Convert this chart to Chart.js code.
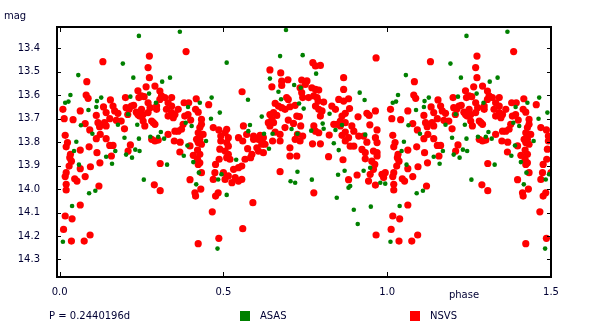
<!DOCTYPE html>
<html><head><meta charset="utf-8">
<script src="https://cdn.jsdelivr.net/npm/chart.js@4/dist/chart.umd.min.js"></script>
<style>html,body{margin:0;padding:0;background:#fff;overflow:hidden}#c{display:block}</style>
</head><body>
<canvas id="c" width="600" height="334"></canvas>
<script>
// ---- data ----
const periodLabel = 'P = 0.2440196d';
const xTitle = 'phase';
const yTitle = 'mag';
const xTicks = [0.0, 0.5, 1.0, 1.5];
const yTicks = [13.4, 13.5, 13.6, 13.7, 13.8, 13.9, 14.0, 14.1, 14.2, 14.3];
const seriesNames = ['ASAS', 'NSVS'];

// ASAS observations: [phase, mag] (phase 0..1)
const asasPoints = [
[0.242,13.347],[0.193,13.465],[0.225,13.525],[0.057,13.514],[0.033,13.599],[0.017,13.632],[0.027,13.627],
[0.114,13.625],[0.127,13.610],[0.112,13.650],[0.088,13.663],[0.065,13.728],[0.100,13.764],[0.051,13.798],
[0.044,13.838],[0.059,13.896],[0.170,13.838],[0.142,13.862],[0.160,13.892],[0.203,13.853],[0.221,13.866],
[0.231,13.832],[0.244,13.838],[0.198,13.781],[0.237,13.726],[0.242,13.785],[0.090,14.018],[0.109,14.007],
[0.038,14.072],[0.010,14.225],[0.209,13.681],[0.216,13.606],[0.178,13.726],
[0.367,13.329],[0.313,13.542],[0.337,13.525],[0.273,13.593],[0.294,13.632],[0.464,13.610],[0.428,13.632],
[0.392,13.650],[0.489,13.674],[0.462,13.700],[0.403,13.731],[0.385,13.717],[0.309,13.757],[0.277,13.777],
[0.301,13.777],[0.319,13.785],[0.390,13.814],[0.447,13.795],[0.379,13.858],[0.408,13.885],[0.328,13.896],
[0.425,13.930],[0.494,13.937],[0.484,13.959],[0.257,13.960],[0.417,13.980],[0.482,14.254],
[0.691,13.322],[0.673,13.433],[0.742,13.429],[0.510,13.461],[0.642,13.529],[0.716,13.556],[0.668,13.585],
[0.736,13.568],[0.575,13.619],[0.676,13.617],[0.731,13.635],[0.617,13.691],[0.581,13.727],[0.576,13.753],
[0.624,13.764],[0.650,13.764],[0.708,13.744],[0.726,13.764],[0.639,13.828],[0.539,13.875],[0.726,13.926],
[0.705,13.967],[0.719,13.973],[0.510,14.025],
[0.783,13.508],[0.916,13.589],[0.931,13.620],[0.745,13.657],[0.824,13.679],[0.803,13.721],[0.806,13.743],
[0.768,13.751],[0.842,13.748],[0.862,13.727],[0.933,13.768],[0.837,13.805],[0.852,13.834],[0.948,13.909],
[0.870,13.922],[0.928,13.922],[0.850,13.939],[0.770,13.960],[0.882,13.994],[0.887,13.987],[0.979,13.973],
[0.994,13.977],[0.846,14.037],[0.950,14.075],[0.898,14.088],[0.910,14.149]
];

// NSVS observations: [phase, mag] (phase 0..1)
const nsvsPoints = [
[0.132,13.457],[0.083,13.542],[0.081,13.599],[0.087,13.613],[0.239,13.581],[0.242,13.610],[0.010,13.660],
[0.014,13.700],[0.041,13.704],[0.063,13.667],[0.078,13.721],[0.092,13.748],[0.112,13.686],[0.117,13.717],
[0.112,13.785],[0.124,13.767],[0.134,13.650],[0.142,13.674],[0.137,13.717],[0.155,13.620],[0.163,13.646],
[0.168,13.667],[0.178,13.677],[0.173,13.707],[0.153,13.700],[0.142,13.731],[0.201,13.610],[0.203,13.653],
[0.212,13.660],[0.208,13.682],[0.219,13.646],[0.226,13.643],[0.234,13.672],[0.239,13.682],[0.244,13.689],
[0.198,13.743],[0.188,13.710],[0.122,13.734],[0.142,13.785],[0.153,13.814],[0.163,13.814],[0.158,13.859],
[0.216,13.812],[0.209,13.838],[0.017,13.771],[0.024,13.802],[0.020,13.820],[0.033,13.852],[0.031,13.866],
[0.036,13.881],[0.029,13.902],[0.020,13.930],[0.017,13.947],[0.063,13.834],[0.090,13.820],[0.114,13.845],
[0.123,13.888],[0.094,13.905],[0.063,13.913],[0.046,13.956],[0.053,13.966],[0.078,13.947],[0.020,13.980],
[0.020,14.004],[0.120,13.987],[0.063,14.068],[0.017,14.115],[0.038,14.127],[0.012,14.172],[0.036,14.222],
[0.075,14.222],[0.093,14.196],
[0.386,13.414],[0.274,13.433],[0.270,13.482],[0.274,13.525],[0.264,13.564],[0.291,13.561],[0.306,13.582],
[0.250,13.603],[0.258,13.606],[0.250,13.660],[0.255,13.682],[0.255,13.710],[0.260,13.731],[0.270,13.632],
[0.276,13.653],[0.270,13.674],[0.296,13.646],[0.296,13.660],[0.311,13.603],[0.321,13.610],[0.342,13.610],
[0.331,13.632],[0.342,13.646],[0.326,13.660],[0.342,13.674],[0.331,13.689],[0.352,13.682],[0.362,13.660],
[0.347,13.696],[0.306,13.618],[0.281,13.710],[0.286,13.717],[0.291,13.724],[0.281,13.788],[0.291,13.795],
[0.301,13.791],[0.331,13.767],[0.352,13.753],[0.362,13.753],[0.372,13.745],[0.377,13.724],[0.350,13.795],
[0.368,13.800],[0.380,13.632],[0.394,13.632],[0.417,13.615],[0.415,13.660],[0.423,13.672],[0.392,13.682],
[0.400,13.706],[0.382,13.689],[0.455,13.640],[0.433,13.703],[0.433,13.724],[0.428,13.738],[0.423,13.760],
[0.418,13.788],[0.428,13.788],[0.438,13.767],[0.433,13.809],[0.423,13.802],[0.421,13.834],[0.428,13.852],
[0.421,13.873],[0.428,13.888],[0.423,13.895],[0.433,13.930],[0.469,13.738],[0.486,13.748],[0.492,13.774],
[0.492,13.795],[0.489,13.830],[0.487,13.873],[0.476,13.895],[0.474,13.930],[0.469,13.959],[0.398,13.816],
[0.408,13.856],[0.367,13.842],[0.307,13.891],[0.398,13.960],[0.289,13.982],[0.307,14.007],[0.413,14.016],
[0.415,14.030],[0.431,14.000],[0.484,14.016],[0.476,14.030],[0.466,14.097],[0.486,14.210],[0.423,14.233],
[0.642,13.492],[0.675,13.505],[0.557,13.585],[0.648,13.564],[0.678,13.540],[0.678,13.558],[0.697,13.534],
[0.739,13.535],[0.734,13.568],[0.739,13.589],[0.742,13.610],[0.693,13.610],[0.698,13.618],[0.658,13.635],
[0.668,13.646],[0.678,13.653],[0.688,13.660],[0.703,13.649],[0.719,13.643],[0.642,13.682],[0.653,13.674],
[0.663,13.686],[0.648,13.703],[0.637,13.717],[0.642,13.731],[0.653,13.717],[0.658,13.757],[0.673,13.767],
[0.673,13.795],[0.688,13.738],[0.698,13.706],[0.714,13.720],[0.724,13.689],[0.732,13.691],[0.736,13.731],
[0.726,13.767],[0.719,13.788],[0.734,13.795],[0.742,13.774],[0.703,13.824],[0.724,13.859],[0.703,13.859],
[0.673,13.926],[0.650,13.795],[0.612,13.771],[0.622,13.781],[0.607,13.788],[0.617,13.809],[0.627,13.809],
[0.592,13.774],[0.571,13.767],[0.561,13.731],[0.546,13.781],[0.559,13.795],[0.592,13.788],[0.602,13.824],
[0.607,13.838],[0.622,13.845],[0.574,13.828],[0.587,13.852],[0.583,13.866],[0.566,13.873],[0.556,13.902],
[0.546,13.909],[0.531,13.916],[0.536,13.951],[0.546,13.966],[0.556,13.959],[0.526,13.973],[0.510,13.745],
[0.505,13.760],[0.515,13.781],[0.510,13.802],[0.515,13.817],[0.505,13.838],[0.515,13.852],[0.510,13.866],
[0.520,13.873],[0.500,13.930],[0.505,13.959],[0.515,13.944],[0.590,14.058],[0.559,14.169],
[0.966,13.441],[0.773,13.461],[0.781,13.475],[0.796,13.473],[0.867,13.525],[0.755,13.539],[0.750,13.554],
[0.867,13.575],[0.770,13.568],[0.781,13.575],[0.791,13.578],[0.776,13.603],[0.786,13.610],[0.760,13.610],
[0.789,13.625],[0.781,13.646],[0.791,13.660],[0.801,13.667],[0.796,13.689],[0.806,13.629],[0.852,13.618],
[0.867,13.625],[0.882,13.615],[0.831,13.646],[0.842,13.660],[0.885,13.657],[0.872,13.677],[0.862,13.689],
[0.857,13.710],[0.872,13.717],[0.857,13.731],[0.847,13.724],[0.837,13.724],[0.911,13.692],[0.938,13.677],
[0.945,13.686],[0.964,13.667],[0.947,13.726],[0.969,13.748],[0.892,13.731],[0.898,13.753],[0.872,13.757],
[0.862,13.771],[0.882,13.781],[0.872,13.795],[0.887,13.817],[0.898,13.817],[0.913,13.774],[0.928,13.774],
[0.938,13.800],[0.964,13.781],[0.969,13.802],[0.776,13.731],[0.781,13.753],[0.791,13.760],[0.823,13.770],
[0.772,13.807],[0.796,13.807],[0.821,13.862],[0.865,13.875],[0.923,13.831],[0.933,13.845],[0.933,13.871],
[0.958,13.838],[0.969,13.845],[0.969,13.859],[0.953,13.881],[0.962,13.895],[0.958,13.916],[0.948,13.937],
[0.943,13.966],[0.964,13.983],[0.984,13.937],[0.989,13.951],[0.994,13.930],[0.908,13.940],[0.882,13.960],
[0.776,14.016],[0.966,14.196]
];

// The plot repeats phases 0.0-0.5 again at 1.0-1.5 (standard folded light-curve display)
function folded(points) {
  const out = [];
  points.forEach(([p, m]) => {
    out.push({x: p, y: m});
    if (p + 1 <= 1.5) out.push({x: p + 1, y: m});
  });
  return out;
}

const FONT = {family: 'DejaVu Sans', size: 10};
const TXT = '#000033';
const GREEN = '#008000';
const RED = '#ff0000';

const decor = {
  id: 'decor',
  afterDatasetsDraw(chart) {
    const {ctx, chartArea: a, scales: {x, y}} = chart;
    ctx.save();
    ctx.strokeStyle = '#000';
    ctx.lineWidth = 2;
    ctx.strokeRect(a.left, a.top, a.right - a.left, a.bottom - a.top);
    ctx.lineWidth = 1;
    ctx.beginPath();
    xTicks.forEach(v => {
      const px = Math.round(x.getPixelForValue(v)) + 0.5;
      ctx.moveTo(px, a.bottom); ctx.lineTo(px, a.bottom - 5);
      ctx.moveTo(px, a.top); ctx.lineTo(px, a.top + 5);
    });
    yTicks.forEach(v => {
      const py = Math.round(y.getPixelForValue(v)) + 0.5;
      ctx.moveTo(a.left, py); ctx.lineTo(a.left + 4, py);
      ctx.moveTo(a.right, py); ctx.lineTo(a.right - 4, py);
    });
    ctx.stroke();

    ctx.font = '10px "DejaVu Sans"';
    ctx.fillStyle = TXT;
    ctx.textBaseline = 'middle';
    ctx.textAlign = 'left';
    ctx.fillText(yTitle, 4, 16);
    ctx.textAlign = 'center';
    ctx.fillText(xTitle, 464, 295);
    ctx.textAlign = 'left';
    ctx.fillText(periodLabel, 49, 316);
    // legend
    ctx.fillStyle = GREEN; ctx.fillRect(240, 311, 10, 10);
    ctx.fillStyle = RED; ctx.fillRect(410, 311, 10, 10);
    ctx.fillStyle = TXT;
    ctx.fillText(seriesNames[0], 260, 316);
    ctx.fillText(seriesNames[1], 430, 316);
    ctx.restore();
  }
};

new Chart(document.getElementById('c'), {
  type: 'scatter',
  data: {
    datasets: [
      {label: seriesNames[0], data: folded(asasPoints), backgroundColor: GREEN, borderWidth: 0, pointRadius: 2.3, pointHoverRadius: 2.3},
      {label: seriesNames[1], data: folded(nsvsPoints), backgroundColor: RED, borderWidth: 0, pointRadius: 3.6, pointHoverRadius: 3.6}
    ]
  },
  options: {
    responsive: false,
    animation: false,
    events: [],
    layout: {padding: {top: 27, right: 49, left: 0, bottom: 0}},
    plugins: {legend: {display: false}, tooltip: {enabled: false}},
    scales: {
      x: {
        type: 'linear', min: -0.008, max: 1.5,
        afterBuildTicks: s => { s.ticks = xTicks.map(v => ({value: v})); },
        afterFit: s => { s.height = 57; },
        grid: {display: false}, border: {display: false},
        ticks: {font: FONT, color: TXT, padding: 1, maxRotation: 0, autoSkip: false, callback: v => Number(v).toFixed(1)}
      },
      y: {
        type: 'linear', reverse: true, min: 13.309, max: 14.375,
        afterBuildTicks: s => { s.ticks = yTicks.map(v => ({value: v})); },
        afterFit: s => { s.width = 57; },
        grid: {display: false}, border: {display: false},
        ticks: {font: FONT, color: TXT, padding: 9, autoSkip: false, callback: v => Number(v).toFixed(1)}
      }
    }
  },
  plugins: [decor]
});
</script>
</body></html>
